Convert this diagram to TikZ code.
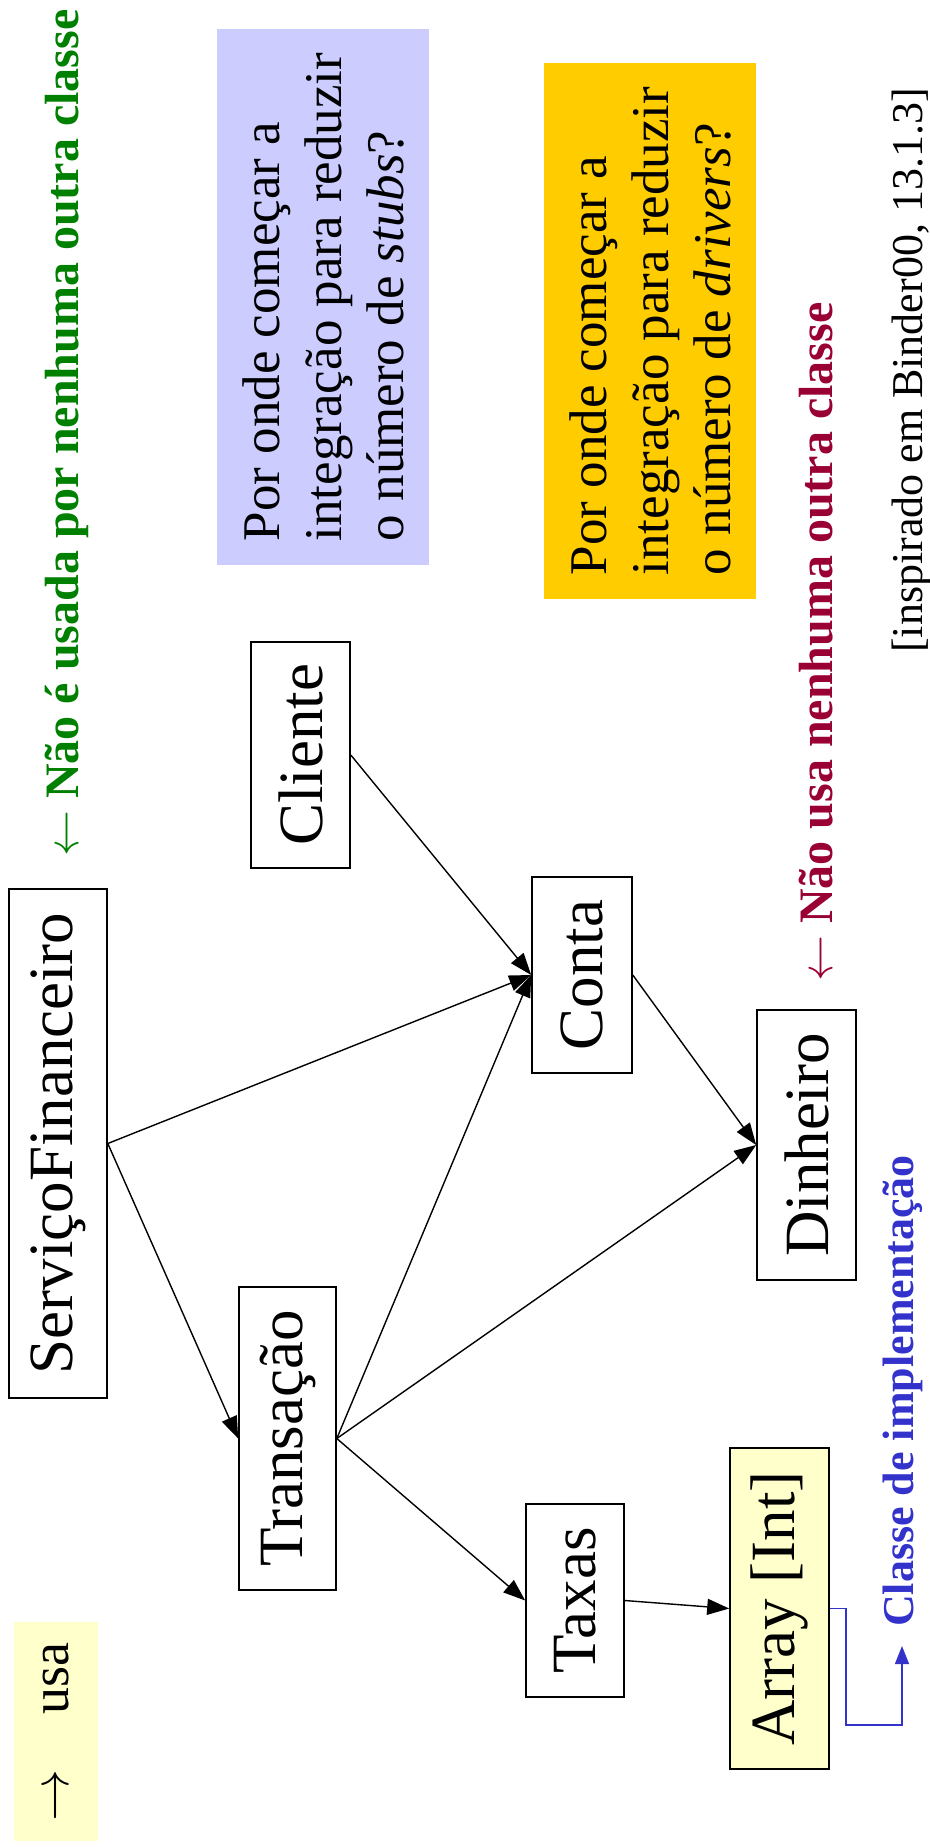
\documentclass[tikz,border=0pt]{standalone}
\usepackage{fontspec}
\setmainfont{Liberation Serif}
\usetikzlibrary{arrows.meta}

\definecolor{legendyellow}{HTML}{FFFFCC}
\definecolor{stubblue}{HTML}{CCCCFF}
\definecolor{driverorange}{HTML}{FFCC00}
\definecolor{usedgreen}{HTML}{008000}
\definecolor{usescrimson}{HTML}{990033}
\definecolor{implblue}{HTML}{3333CC}

% large open-headed arrows built from the 10pt math glyphs
\newcommand{\bigleftarr}[1]{\scalebox{#1}{\normalsize$\leftarrow$}}
\newcommand{\bigrightarr}[1]{\scalebox{#1}{\normalsize$\rightarrow$}}

\begin{document}
\begin{tikzpicture}[x=1pt,y=-1pt,
  cls/.style={draw,line width=1.6pt,rotate=90,inner sep=0pt,
    font=\fontsize{63}{70}\selectfont},
  question/.style={rotate=90,inner sep=0pt,align=left,
    font=\fontsize{53}{62}\selectfont,
    minimum width=536pt,minimum height=212pt},
  remark/.style={rotate=90,anchor=west,inner sep=0pt,
    font=\bfseries\fontsize{48}{52}\selectfont},
  dep/.style={line width=1.4pt,-{Triangle[length=22pt,width=16pt]}},
  implarrow/.style={line width=1.4pt,draw=implblue,
    -{Triangle[length=18pt,width=14pt]}}]
\useasboundingbox (0,0) rectangle (929,1847);

% legend
\node[rotate=90,fill=legendyellow,inner sep=0pt,minimum width=219pt,
  minimum height=84pt,font=\fontsize{54}{58}\selectfont]
  (legend) at (56,1731.5) {\bigrightarr{5.2}\hspace{55pt}usa};

% classes
\node[cls,minimum width=509pt,minimum height=98pt] (sf) at (58,1143.5) {ServiçoFinanceiro};
\node[cls,minimum width=303pt,minimum height=97pt] (trans) at (287.5,1438.5) {Transação};
\node[cls,minimum width=226pt,minimum height=99pt] (cli) at (300.5,755) {Cliente};
\node[cls,minimum width=196pt,minimum height=100pt] (conta) at (582,975) {Conta};
\node[cls,minimum width=270pt,minimum height=99pt] (din) at (806.5,1145) {Dinheiro};
\node[cls,minimum width=193pt,minimum height=98pt] (taxas) at (575,1600.5) {Taxas};
\node[cls,fill=legendyellow,minimum width=321pt,minimum height=99pt] (arr) at (779.5,1608.5) {Array [Int]};

% dependencies
\draw[dep] (sf.south) -- (conta.north);
\draw[dep] (sf.south) -- (trans.north);
\draw[dep] (cli.south) -- (conta.north);
\draw[dep] (trans.south) -- (conta.north);
\draw[dep] (trans.south) -- (din.north);
\draw[dep] (trans.south) -- (taxas.north);
\draw[dep] (conta.south) -- (din.north);
\draw[dep] (taxas.south) -- (arr.north);

% questions
\node[question,fill=stubblue] (stubq) at (323,297)
  {Por onde começar a\\integração para reduzir\\o número de \textit{stubs}?};
\node[question,fill=driverorange] (driverq) at (650,331)
  {Por onde começar a\\integração para reduzir\\o número de \textit{drivers}?};

% remarks
\node[remark,text=usedgreen] (notused) at (67,857)
  {\bigleftarr{4.6} Não é usada por nenhuma outra classe};
\node[remark,text=usescrimson] (usesnone) at (816,982)
  {\bigleftarr{4.6} Não usa nenhuma outra classe};

% implementation class marker
\coordinate (impltip) at (902,1646);
\draw[implarrow] (arr.south) -- (846,1608.5) -- (846,1725) -- (902,1725) -- (impltip);
\node[remark,text=implblue,font=\bfseries\fontsize{44}{48}\selectfont]
  (impl) at (903,1627) {Classe de implementação};

% source
\node[rotate=90,anchor=west,inner sep=0pt,font=\fontsize{44}{48}\selectfont]
  (source) at (912,653) {[inspirado em Binder00, 13.1.3]};
\end{tikzpicture}
\end{document}
